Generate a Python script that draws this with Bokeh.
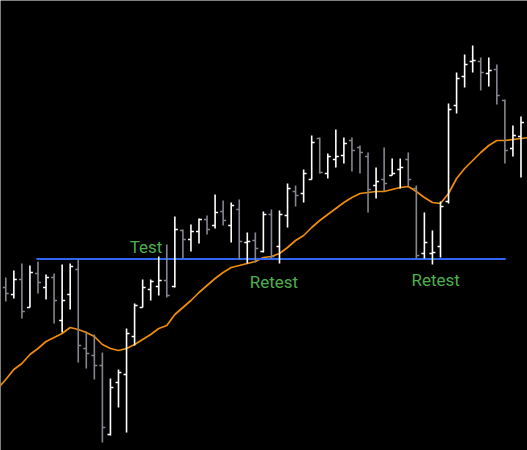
from bokeh.plotting import figure
from bokeh.models import ColumnDataSource, Range1d
from bokeh.core.properties import value
from bokeh.embed import file_html
from bokeh.resources import INLINE

# OHLC bars (one per session)
opens = [163, 156, 171, 143, 177, 163, 173, 130, 156, 181, 102, 95, 85, 16, 68, 76, 114, 143, 161, 164,
         170, 164, 220, 211, 219, 231, 225, 239, 225, 241, 208, 210, 199, 236, 204, 235, 259, 257, 271, 312,
         277, 291, 295, 310, 303, 294, 265, 271, 275, 281, 291, 262, 197, 197, 204, 249, 345, 374, 389, 389,
         377, 381, 350, 302, 314]
highs = [173, 180, 187, 185, 189, 176, 177, 186, 187, 191, 119, 116, 98, 72, 81, 122, 147, 171, 171, 194,
         206, 234, 221, 226, 232, 235, 256, 250, 248, 251, 218, 218, 239, 241, 240, 267, 265, 281, 315, 313,
         297, 321, 313, 313, 305, 298, 283, 303, 292, 292, 298, 265, 238, 220, 249, 347, 378, 396, 405, 393,
         393, 386, 351, 325, 334]
lows = [149, 152, 132, 143, 157, 151, 127, 118, 141, 88, 82, 71, 8, 15, 43, 18, 105, 143, 150, 155,
        153, 163, 192, 199, 207, 216, 222, 225, 208, 191, 187, 188, 198, 192, 187, 223, 244, 248, 271, 277,
        272, 283, 287, 279, 277, 238, 252, 259, 275, 262, 264, 192, 192, 186, 193, 247, 337, 363, 378, 360,
        364, 346, 287, 294, 273]
closes = [157, 171, 139, 178, 168, 173, 150, 150, 184, 105, 97, 85, 23, 63, 78, 117, 145, 163, 169, 170,
          155, 221, 211, 219, 231, 221, 238, 230, 245, 209, 209, 202, 236, 194, 236, 262, 255, 277, 308, 278,
          294, 294, 307, 300, 298, 261, 269, 267, 277, 283, 271, 195, 208, 198, 244, 341, 372, 386, 390, 378,
          380, 355, 300, 315, 328]

# Moving average (sessions -1 .. 65)
ma_values = [62, 71, 81, 87, 96, 102, 109, 113, 117, 123, 121, 118, 114, 106, 102, 100, 102, 106, 111, 116,
             122, 125, 136, 143, 150, 158, 165, 172, 178, 183, 185, 187, 189, 193, 194, 197, 203, 210, 215, 223,
             230, 236, 242, 248, 253, 257, 258, 259, 259, 261, 263, 264, 259, 253, 248, 247, 257, 272, 282, 290,
             298, 305, 310, 310, 311, 312, 313]

# Horizontal support/resistance level
level_price = 191.5
level_start = 3.8
level_end = 62.1

# Annotations
label_texts = ["Test", "Retest", "Retest"]
label_x = [15.4, 30.3, 50.4]
label_y = [204.0, 169.0, 171.0]

n = len(opens)
idx = list(range(n))
up = [c >= o for o, c in zip(opens, closes)]
colors = ["#ffffff" if u else "#85858f" for u in up]
tick = 0.37

src = ColumnDataSource(dict(
    x=idx, o=opens, h=highs, l=lows, c=closes, color=colors,
    xl=[i - tick for i in idx], xr=[i + tick for i in idx],
))

W, H = 527, 450
p = figure(width=W, height=H, output_backend="svg", toolbar_location=None,
           x_range=Range1d(-0.658, 64.81), y_range=Range1d(0, 450),
           background_fill_color="#000000", border_fill_color="#000000",
           min_border=0, outline_line_color=None)
p.xaxis.visible = False
p.yaxis.visible = False
p.grid.visible = False

ma_x = list(range(-1, len(ma_values) - 1))
p.line(ma_x, ma_values, line_color="#ef8c0a", line_width=1.7)

p.segment(x0=[level_start], y0=[level_price], x1=[level_end], y1=[level_price],
          line_color="#2e66f2", line_width=2.2)

p.segment(x0="x", y0="l", x1="x", y1="h", source=src, line_color="color", line_width=1.6)
p.segment(x0="xl", y0="o", x1="x", y1="o", source=src, line_color="color", line_width=1.6)
p.segment(x0="x", y0="c", x1="xr", y1="c", source=src, line_color="color", line_width=1.6)

p.text(x=label_x, y=label_y, text=label_texts, text_color="#4caf50",
       text_font=value("Roboto"), text_font_size="17px",
       text_align="left", text_baseline="alphabetic")

open("out.html", "w").write(file_html(p, INLINE))
